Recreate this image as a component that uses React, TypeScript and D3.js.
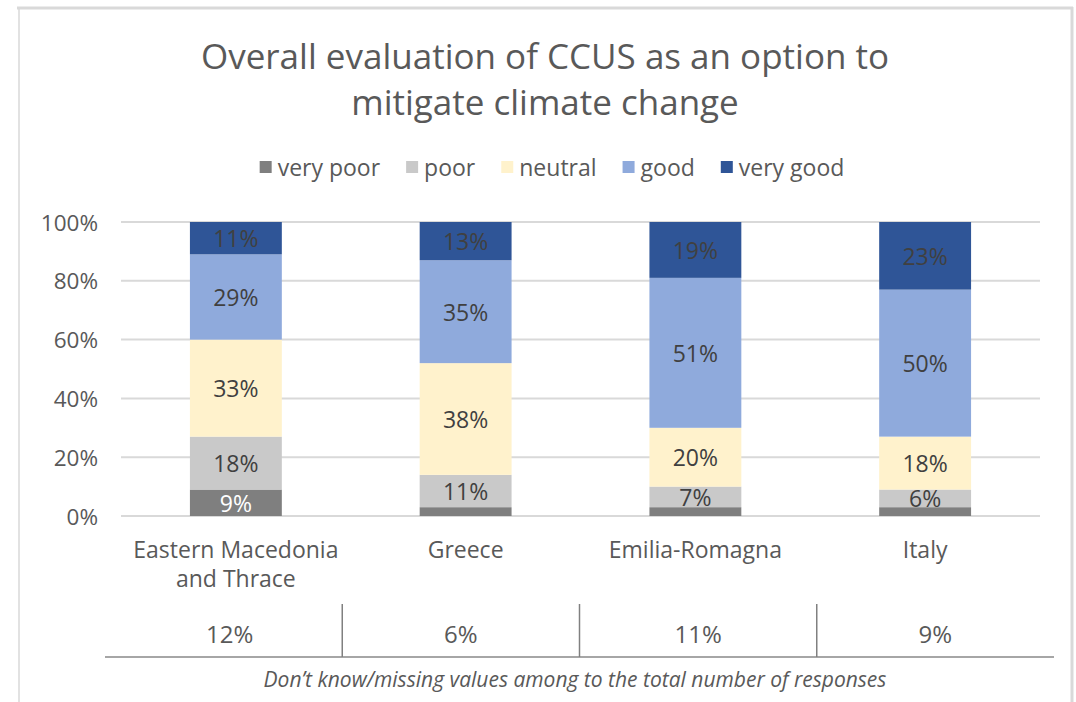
import React from "react";
import * as d3 from "d3";

const categories = ["Eastern Macedonia and Thrace", "Greece", "Emilia-Romagna", "Italy"];
const categoryLines = [["Eastern Macedonia", "and Thrace"], ["Greece"], ["Emilia-Romagna"], ["Italy"]];
const seriesNames = ["very poor", "poor", "neutral", "good", "very good"];
const veryPoor = [9, 3, 3, 3];
const poor = [18, 11, 7, 6];
const neutral = [33, 38, 20, 18];
const good = [29, 35, 51, 50];
const veryGood = [11, 13, 19, 23];
const labelShown = [
  [true, false, false, false],
  [true, true, true, true],
  [true, true, true, true],
  [true, true, true, true],
  [true, true, true, true],
];
const missing = [12, 6, 11, 9];
const yTicks = [0, 0.2, 0.4, 0.6, 0.8, 1];
const titleLines = ["Overall evaluation of CCUS as an option to", "mitigate climate change"];
const footnote = "Don\u2019t know/missing values among to the total number of responses";

const colors = ["#7f7f7f", "#c9c9c9", "#fff2cc", "#8faadc", "#2f5597"];
const labelColors = ["#ffffff", "#404040", "#404040", "#404040", "#404040"];
const FONT = "'Open Sans', 'Liberation Sans', sans-serif";

let ctx: CanvasRenderingContext2D | null = null;
function measure(text: string, size: number) {
  if (!ctx) ctx = document.createElement("canvas").getContext("2d");
  if (!ctx) return text.length * size * 0.5;
  ctx.font = `${size}px 'Open Sans'`;
  return ctx.measureText(text).width;
}

export default function App() {
  const W = 1076, H = 702;
  const plotLeft = 121, plotRight = 1040, plotTop = 222, plotBottom = 516;
  const series = [veryPoor, poor, neutral, good, veryGood];

  const x = d3.scaleBand<string>().domain(categories).range([plotLeft, plotRight]).paddingInner(0.6).paddingOuter(0.3);
  const y = d3.scaleLinear().domain([0, 1]).range([plotBottom, plotTop]);
  const tableX = d3.scaleBand<string>().domain(categories).range([105, 1054]);
  const fmt = d3.format(".0%");

  const rows = categories.map((c, i) => {
    const o: any = { cat: c };
    seriesNames.forEach((s, k) => (o[s] = series[k][i] / 100));
    return o;
  });
  const stacked = d3.stack<any>().keys(seriesNames)(rows);

  // legend layout
  const legendSize = 23;
  const sw = 12, gap = 6, spacing = 26;
  const itemWidths = seriesNames.map((s) => sw + gap + measure(s, legendSize));
  const totalW = d3.sum(itemWidths) + spacing * (seriesNames.length - 1);
  let lx = 552 - totalW / 2;
  const legendItems = seriesNames.map((s, k) => {
    const item = { name: s, x: lx, color: colors[k] };
    lx += itemWidths[k] + spacing;
    return item;
  });

  return (
    <svg width={W} height={H} style={{ position: "absolute", left: 0, top: 0, background: "#fff" }} fontFamily={FONT}>
      <rect x={0} y={0} width={W} height={H} fill="#ffffff" />
      {/* border */}
      <line x1={17} x2={1073} y1={8} y2={8} stroke="#d9d9d9" strokeWidth={3} />
      <line x1={19} x2={19} y1={7} y2={H} stroke="#d9d9d9" strokeWidth={1.5} />
      <line x1={1072} x2={1072} y1={7} y2={H} stroke="#d9d9d9" strokeWidth={3} />

      {/* title */}
      {titleLines.map((t, i) => (
        <text key={i} x={545} y={55 + i * 46} textAnchor="middle" dominantBaseline="central" fontSize={35} fill="#595959">
          {t}
        </text>
      ))}

      {/* legend */}
      {legendItems.map((it) => (
        <g key={it.name}>
          <rect x={it.x} y={167 - sw / 2} width={sw} height={sw} fill={it.color} />
          <text x={it.x + sw + gap} y={167} dominantBaseline="central" fontSize={legendSize} fill="#595959">
            {it.name}
          </text>
        </g>
      ))}

      {/* gridlines and y axis labels */}
      {yTicks.map((t) => (
        <g key={t}>
          <line x1={plotLeft} x2={plotRight} y1={y(t)} y2={y(t)} stroke="#d9d9d9" strokeWidth={2} />
          <text x={98} y={y(t)} textAnchor="end" dominantBaseline="central" fontSize={22.5} fill="#595959">
            {fmt(t)}
          </text>
        </g>
      ))}

      {/* bars */}
      {stacked.map((layer, k) => (
        <g key={layer.key} fill={colors[k]}>
          {layer.map((d, i) => (
            <rect key={i} x={x(categories[i])} y={y(d[1])} width={x.bandwidth()} height={y(d[0]) - y(d[1])} />
          ))}
        </g>
      ))}
      {/* labels */}
      {stacked.map((layer, k) => (
        <g key={"l" + layer.key}>
          {layer.map((d, i) =>
            labelShown[k][i] ? (
              <text
                key={i}
                x={(x(categories[i]) as number) + x.bandwidth() / 2}
                y={(y(d[0]) + y(d[1])) / 2}
                textAnchor="middle"
                dominantBaseline="central"
                fontSize={23}
                fill={labelColors[k]}
              >
                {fmt(d[1] - d[0])}
              </text>
            ) : null
          )}
        </g>
      ))}

      {/* category labels */}
      {categoryLines.map((lines, i) =>
        lines.map((ln, j) => (
          <text
            key={i + "-" + j}
            x={(x(categories[i]) as number) + x.bandwidth() / 2}
            y={549 + j * 29}
            textAnchor="middle"
            dominantBaseline="central"
            fontSize={23}
            fill="#595959"
          >
            {ln}
          </text>
        ))
      )}

      {/* table */}
      <line x1={105} x2={1054} y1={657} y2={657} stroke="#a6a6a6" strokeWidth={2} />
      {categories.slice(1).map((c) => (
        <line key={c} x1={tableX(c)} x2={tableX(c)} y1={604} y2={657} stroke="#808080" strokeWidth={1.5} />
      ))}
      {missing.map((m, i) => (
        <text
          key={i}
          x={(tableX(categories[i]) as number) + tableX.bandwidth() / 2 + (i === 0 ? 6 : 0)}
          y={633}
          textAnchor="middle"
          dominantBaseline="central"
          fontSize={24}
          fill="#595959"
        >
          {m + "%"}
        </text>
      ))}
      <text x={575} y={679} textAnchor="middle" dominantBaseline="central" fontSize={21} fontStyle="italic" fill="#595959">
        {footnote}
      </text>
    </svg>
  );
}
